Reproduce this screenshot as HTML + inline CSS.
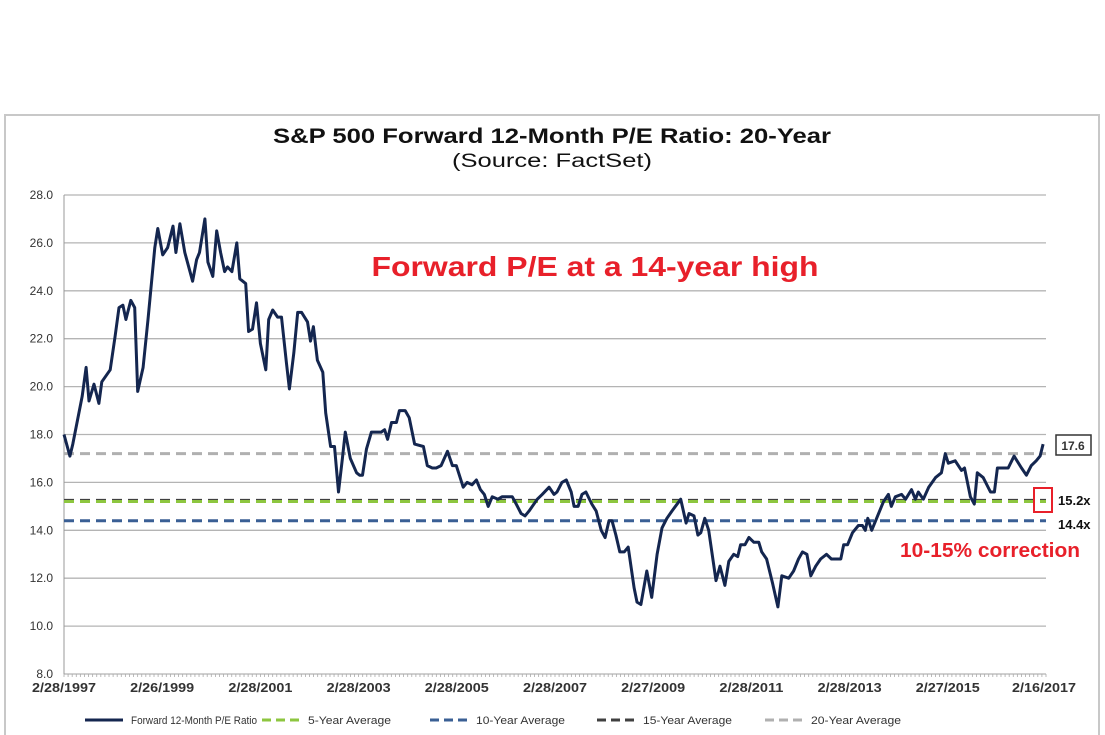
<!DOCTYPE html>
<html><head><meta charset="utf-8"><style>
html,body{margin:0;padding:0;background:#fff;}
svg{display:block;font-family:"Liberation Sans",Arial,sans-serif;}
</style></head><body>
<svg id="chart" width="1105" height="735" viewBox="0 0 1105 735">
<rect x="5" y="115" width="1094" height="630" fill="#fff" stroke="#c8c8c8" stroke-width="2"/>
<text x="552" y="143" text-anchor="middle" font-size="21" font-weight="bold" fill="#111" textLength="558" lengthAdjust="spacingAndGlyphs">S&amp;P 500 Forward 12-Month P/E Ratio: 20-Year</text>
<text x="552" y="167" text-anchor="middle" font-size="19" fill="#111" textLength="200" lengthAdjust="spacingAndGlyphs">(Source: FactSet)</text>
<g id="grid"></g><g id="avgs"></g><g id="series"></g><g id="xaxis"></g>
<text x="595" y="276" text-anchor="middle" font-size="28" font-weight="bold" fill="#e8202a" textLength="447" lengthAdjust="spacingAndGlyphs">Forward P/E at a 14-year high</text>
<text x="1080" y="557" text-anchor="end" font-size="20" font-weight="bold" fill="#e8202a" textLength="180" lengthAdjust="spacingAndGlyphs">10-15% correction</text>
<rect x="1056" y="435" width="35" height="20" fill="#fff" stroke="#333" stroke-width="1.5"/>
<text x="1073" y="450" text-anchor="middle" font-size="12" font-weight="bold" fill="#333">17.6</text>
<rect x="1034" y="488" width="18" height="24" fill="none" stroke="#e8202a" stroke-width="2"/>
<text x="1058" y="505" font-size="13" font-weight="bold" fill="#111">15.2x</text>
<text x="1058" y="529" font-size="13" font-weight="bold" fill="#111">14.4x</text>
<g id="legend"></g>
</svg>
<script>
const yTicks=[8,10,12,14,16,18,20,22,24,26,28];
const xTickYears=[0,2,4,6,8,10,12,14,16,18,19.96];
const xTickLabels=["2/28/1997","2/26/1999","2/28/2001","2/28/2003","2/28/2005","2/28/2007","2/27/2009","2/28/2011","2/28/2013","2/27/2015","2/16/2017"];
const avgNames=["5-Year Average","10-Year Average","15-Year Average","20-Year Average"];
const avgValues=[15.2,14.4,15.25,17.2];
const avgColors=["#8dc63f","#3a5f94","#404040","#b0b0b0"];
const years=[0,.12,.18,.37,.45,.51,.61,.71,.77,.94,1.04,1.12,1.20,1.26,1.36,1.44,1.50,1.61,1.71,1.85,1.91,2.01,2.11,2.22,2.28,2.36,2.46,2.62,2.70,2.76,2.87,2.93,3.03,3.11,3.19,3.27,3.33,3.42,3.52,3.58,3.70,3.76,3.84,3.92,4.00,4.11,4.17,4.25,4.35,4.43,4.53,4.59,4.68,4.76,4.84,4.96,5.02,5.08,5.16,5.27,5.33,5.43,5.51,5.59,5.67,5.73,5.83,5.96,6.02,6.08,6.16,6.26,6.36,6.46,6.53,6.59,6.67,6.77,6.83,6.95,7.03,7.14,7.32,7.40,7.50,7.58,7.68,7.81,7.91,7.99,8.13,8.21,8.31,8.40,8.48,8.56,8.64,8.72,8.84,8.92,9.13,9.21,9.31,9.39,9.47,9.64,9.74,9.88,9.98,10.04,10.14,10.23,10.33,10.39,10.47,10.55,10.63,10.75,10.84,10.94,11.02,11.10,11.16,11.24,11.32,11.41,11.49,11.61,11.67,11.75,11.87,11.97,12.08,12.18,12.28,12.38,12.56,12.67,12.73,12.83,12.91,12.97,13.05,13.13,13.28,13.36,13.46,13.54,13.64,13.72,13.78,13.87,13.95,14.05,14.15,14.21,14.31,14.43,14.54,14.62,14.76,14.86,14.96,15.04,15.13,15.21,15.31,15.41,15.53,15.63,15.82,15.88,15.96,16.06,16.18,16.26,16.32,16.37,16.45,16.57,16.69,16.79,16.85,16.93,17.06,17.14,17.26,17.34,17.40,17.50,17.61,17.75,17.87,17.95,18.01,18.15,18.28,18.34,18.46,18.54,18.60,18.72,18.87,18.95,19.01,19.13,19.23,19.35,19.50,19.60,19.70,19.80,19.88,19.94];
const peValues=[18.0,17.1,17.6,19.6,20.8,19.4,20.1,19.3,20.2,20.7,22.1,23.3,23.4,22.8,23.6,23.3,19.8,20.8,22.8,25.8,26.6,25.5,25.8,26.7,25.6,26.8,25.6,24.4,25.3,25.6,27.0,25.2,24.6,26.5,25.6,24.8,25.0,24.8,26.0,24.5,24.3,22.3,22.4,23.5,21.8,20.7,22.8,23.2,22.9,22.9,21.0,19.9,21.4,23.1,23.1,22.7,21.9,22.5,21.1,20.6,18.9,17.5,17.5,15.6,17.0,18.1,17.0,16.4,16.3,16.3,17.4,18.1,18.1,18.1,18.2,17.8,18.5,18.5,19.0,19.0,18.7,17.6,17.5,16.7,16.6,16.6,16.7,17.3,16.7,16.7,15.8,16.0,15.9,16.1,15.7,15.5,15.0,15.4,15.3,15.4,15.4,15.1,14.7,14.6,14.8,15.3,15.5,15.8,15.5,15.6,16.0,16.1,15.6,15.0,15.0,15.5,15.6,15.1,14.8,14.0,13.7,14.4,14.4,13.8,13.1,13.1,13.3,11.6,11.0,10.9,12.3,11.2,13.0,14.1,14.5,14.8,15.3,14.3,14.7,14.6,13.8,13.9,14.5,14.0,11.9,12.5,11.7,12.7,13.0,12.9,13.4,13.4,13.7,13.5,13.5,13.1,12.8,11.8,10.8,12.1,12.0,12.3,12.8,13.1,13.0,12.1,12.5,12.8,13.0,12.8,12.8,13.4,13.4,13.9,14.2,14.2,14.0,14.5,14.0,14.6,15.2,15.5,15.0,15.4,15.5,15.3,15.7,15.3,15.6,15.3,15.8,16.2,16.4,17.2,16.8,16.9,16.5,16.6,15.4,15.1,16.4,16.2,15.6,15.6,16.6,16.6,16.6,17.1,16.6,16.3,16.7,16.9,17.1,17.6];

const NS="http://www.w3.org/2000/svg";
const X0=64,X1=1046,Y0=674,Y1=195;
function xs(t){return X0+t*49.1;}
function ys(v){return Y0-(v-8)*(Y0-Y1)/20;}
function mk(tag,attrs,parent){const e=document.createElementNS(NS,tag);for(const k in attrs)e.setAttribute(k,attrs[k]);parent.appendChild(e);return e;}
const grid=document.getElementById('grid');
yTicks.forEach(v=>{
  const l=mk('line',{x1:X0,x2:X1,y1:ys(v),y2:ys(v),stroke:'#b4b4b4','stroke-width':1.3},grid);
  
  
  const t=mk('text',{x:53,y:ys(v)+4,'text-anchor':'end','font-size':12,fill:'#333'},grid);
  t.textContent=v.toFixed(1);
  
  
});
const ya=mk('line',{x1:X0,x2:X0,y1:Y1,y2:Y0,stroke:'#999','stroke-width':1},grid);


const xa=document.getElementById('xaxis');
for(let m=0;m<=240;m++){
  const tk=mk('line',{x1:xs(m/12),x2:xs(m/12),y1:Y0,y2:Y0+3,stroke:'#aaa','stroke-width':0.8},xa);
  
  
}
xTickYears.forEach((t,i)=>{
  const e=mk('text',{x:xs(t),y:692,'text-anchor':'middle','font-size':12.5,'font-weight':'bold',fill:'#333',textLength:64,lengthAdjust:'spacingAndGlyphs'},xa);
  e.textContent=xTickLabels[i];
  
  
});
const ag=document.getElementById('avgs');
[3,2,0,1].forEach(i=>{
  const l=mk('line',{x1:X0,x2:X1,y1:ys(avgValues[i]),y2:ys(avgValues[i]),stroke:avgColors[i],'stroke-width':3,'stroke-dasharray':'10 6'},ag);
  
  
});
const sg=document.getElementById('series');
const p=mk('polyline',{points:years.map((t,i)=>xs(t).toFixed(1)+','+ys(peValues[i]).toFixed(1)).join(' '),fill:'none',stroke:'#14264f','stroke-width':3,'stroke-linejoin':'round'},sg);


const lg=document.getElementById('legend');
const legendItems=[["Forward 12-Month P/E Ratio","#14264f",false,85,126]].concat(avgNames.map((n,i)=>[n,avgColors[i],true,[262,430,597,765][i],[83,89,89,90][i]]));
legendItems.forEach(it=>{
  const l=mk('line',{x1:it[3],x2:it[3]+38,y1:720,y2:720,stroke:it[1],'stroke-width':3,'stroke-dasharray':it[2]?'9 5':'none'},lg);
  
  
  const t=mk('text',{x:it[3]+46,y:724,'font-size':11,fill:'#333',textLength:it[4],lengthAdjust:'spacingAndGlyphs'},lg);
  t.textContent=it[0];
  
  
});
</script>
</body></html>
